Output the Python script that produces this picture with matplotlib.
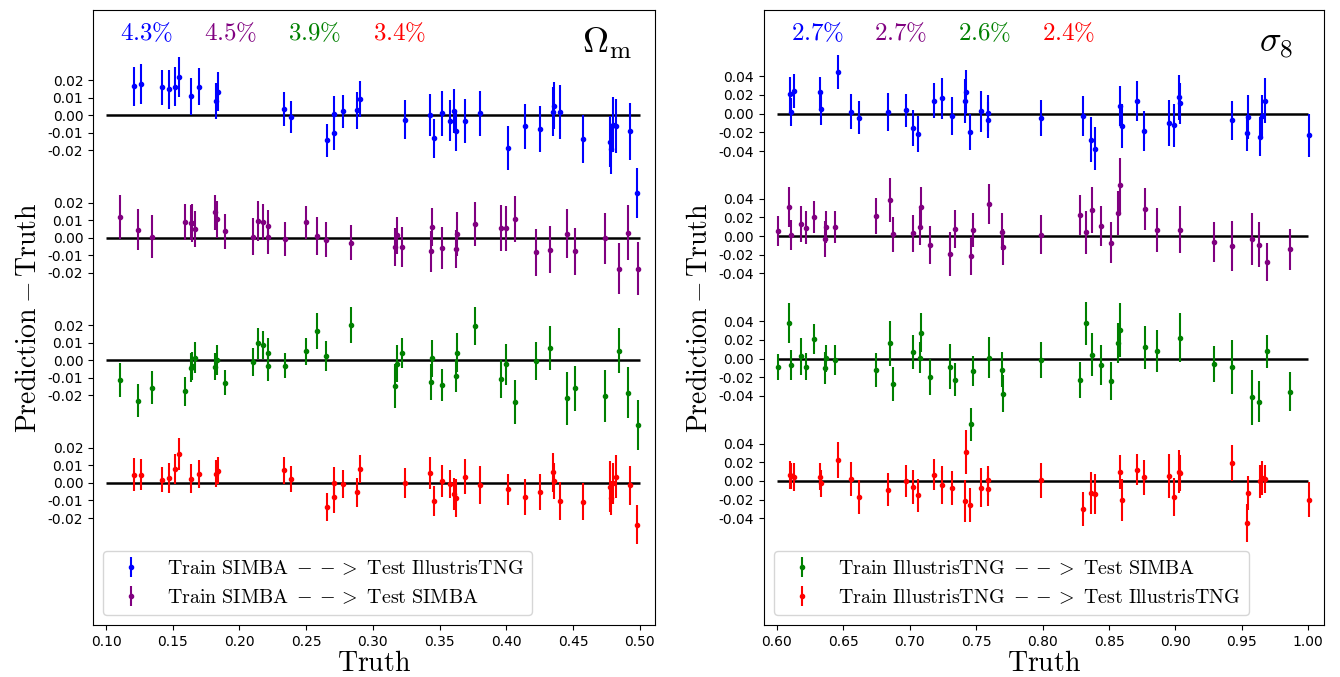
import matplotlib
matplotlib.use("Agg")
import matplotlib.pyplot as plt
import numpy as np

plt.rcParams['mathtext.fontset'] = 'cm'

# ---------------- data: Omega_m panel ----------------
# truth values of the IllustrisTNG test set (blue + red) and SIMBA test set (purple + green)
x_tng_om = [0.1208, 0.1265, 0.1423, 0.1475, 0.1516, 0.1546, 0.1638, 0.1696, 0.1826, 0.1838,
            0.2331, 0.2388, 0.2653, 0.2706, 0.2709, 0.2776, 0.2884, 0.2901, 0.3242, 0.3432,
            0.3456, 0.3519, 0.3576, 0.3612, 0.3627, 0.3687, 0.3804, 0.4012, 0.4144, 0.4255,
            0.4347, 0.4355, 0.4405, 0.4572, 0.4777, 0.4782, 0.4800, 0.4825, 0.4925, 0.4983]
x_simba_om = [0.1107, 0.1240, 0.1343, 0.1588, 0.1633, 0.1643, 0.1666, 0.1818, 0.1835, 0.1893,
              0.2098, 0.2141, 0.2173, 0.2216, 0.2213, 0.2343, 0.2499, 0.2581, 0.2649, 0.2836,
              0.3169, 0.3184, 0.3216, 0.3441, 0.3437, 0.3519, 0.3634, 0.3624, 0.3769, 0.3964,
              0.3997, 0.4069, 0.4220, 0.4330, 0.4457, 0.4517, 0.4743, 0.4845, 0.4912, 0.4985]

# prediction - truth
blue_om = [0.0164, 0.0178, 0.0158, 0.0147, 0.0162, 0.0219, 0.0107, 0.0162, 0.0079, 0.0134,
           0.0033, -0.0010, -0.0144, 0.0005, -0.0101, 0.0022, 0.0027, 0.0090, -0.0026, 0.0001,
           -0.0132, 0.0010, -0.0033, 0.0022, -0.0090, -0.0035, 0.0010, -0.0187, -0.0064, -0.0079,
           0.0020, 0.0054, 0.0018, -0.0136, -0.0151, -0.0193, -0.0054, -0.0062, -0.0092, -0.0446]
blue_om_err = [0.0112, 0.0112, 0.0100, 0.0110, 0.0110, 0.0114, 0.0105, 0.0104, 0.0103, 0.0113,
               0.0097, 0.0093, 0.0095, 0.0102, 0.0098, 0.0094, 0.0107, 0.0102, 0.0111, 0.0120,
               0.0111, 0.0127, 0.0117, 0.0126, 0.0116, 0.0125, 0.0127, 0.0125, 0.0130, 0.0132,
               0.0138, 0.0135, 0.0155, 0.0136, 0.0146, 0.0143, 0.0159, 0.0154, 0.0163, 0.0143]
purple_om = [0.0120, 0.0044, 0.0006, 0.0091, 0.0086, 0.0084, 0.0051, 0.0144, 0.0104, 0.0036,
             0.0006, 0.0095, 0.0091, 0.0067, 0.0002, -0.0006, 0.0087, 0.0011, -0.0011, -0.0029,
             -0.0053, 0.0013, -0.0053, 0.0063, -0.0076, -0.0059, 0.0021, -0.0065, 0.0078, 0.0053,
             0.0053, 0.0107, -0.0084, -0.0068, 0.0023, -0.0078, -0.0004, -0.0178, 0.0029, -0.0177]
purple_om_err = [0.0126, 0.0117, 0.0122, 0.0104, 0.0100, 0.0110, 0.0104, 0.0099, 0.0105, 0.0100,
                 0.0104, 0.0112, 0.0103, 0.0092, 0.0095, 0.0097, 0.0092, 0.0110, 0.0098, 0.0101,
                 0.0106, 0.0108, 0.0114, 0.0109, 0.0117, 0.0120, 0.0125, 0.0108, 0.0124, 0.0131,
                 0.0129, 0.0129, 0.0135, 0.0133, 0.0138, 0.0136, 0.0146, 0.0145, 0.0155, 0.0150]
green_om = [-0.0112, -0.0230, -0.0156, -0.0177, -0.0042, -0.0032, 0.0015, -0.0036, 0.0000, -0.0128,
            -0.0010, 0.0097, 0.0087, 0.0043, -0.0034, -0.0031, 0.0051, 0.0169, 0.0025, 0.0200,
            -0.0145, -0.0019, 0.0042, 0.0011, -0.0125, -0.0141, 0.0043, -0.0090, 0.0196, -0.0105,
            -0.0023, -0.0238, -0.0004, 0.0072, -0.0217, -0.0160, -0.0204, 0.0055, -0.0185, -0.0369]
green_om_err = [0.0095, 0.0095, 0.0096, 0.0083, 0.0083, 0.0080, 0.0090, 0.0078, 0.0086, 0.0071,
                0.0081, 0.0090, 0.0081, 0.0086, 0.0085, 0.0072, 0.0079, 0.0102, 0.0087, 0.0102,
                0.0125, 0.0105, 0.0083, 0.0104, 0.0103, 0.0093, 0.0111, 0.0092, 0.0108, 0.0109,
                0.0118, 0.0128, 0.0106, 0.0125, 0.0150, 0.0127, 0.0148, 0.0128, 0.0147, 0.0142]
red_om = [0.0048, 0.0048, 0.0019, 0.0029, 0.0078, 0.0165, 0.0023, 0.0050, 0.0054, 0.0071,
          0.0072, 0.0023, -0.0137, 0.0000, -0.0082, -0.0006, -0.0053, 0.0080, 0.0000, 0.0057,
          -0.0103, 0.0011, -0.0006, -0.0063, -0.0086, 0.0036, -0.0013, -0.0036, -0.0080, -0.0051,
          0.0061, 0.0011, -0.0103, -0.0108, -0.0021, -0.0086, -0.0002, 0.0036, -0.0013, -0.0239]
red_om_err = [0.0092, 0.0089, 0.0071, 0.0085, 0.0086, 0.0091, 0.0083, 0.0080, 0.0075, 0.0079,
              0.0079, 0.0075, 0.0081, 0.0089, 0.0092, 0.0079, 0.0082, 0.0082, 0.0084, 0.0092,
              0.0087, 0.0090, 0.0078, 0.0092, 0.0110, 0.0099, 0.0107, 0.0090, 0.0101, 0.0104,
              0.0111, 0.0104, 0.0111, 0.0106, 0.0146, 0.0095, 0.0116, 0.0122, 0.0111, 0.0111]
pct_om = ["4.3", "4.5", "3.9", "3.4"]

# ---------------- data: sigma_8 panel ----------------
x_tng_s8 = [0.6099, 0.6107, 0.6125, 0.6326, 0.6334, 0.6456, 0.6557, 0.6617, 0.6837, 0.6972,
            0.7025, 0.7060, 0.7180, 0.7245, 0.7316, 0.7415, 0.7423, 0.7451, 0.7533, 0.7588,
            0.7591, 0.7986, 0.8307, 0.8362, 0.8397, 0.8580, 0.8597, 0.8713, 0.8760, 0.8948,
            0.8993, 0.9029, 0.9038, 0.9429, 0.9536, 0.9544, 0.9637, 0.9654, 0.9677, 1.0002]
x_simba_s8 = [0.6008, 0.6093, 0.6103, 0.6181, 0.6219, 0.6281, 0.6364, 0.6369, 0.6434, 0.6742,
              0.6850, 0.6877, 0.7025, 0.7075, 0.7085, 0.7155, 0.7305, 0.7343, 0.7458, 0.7476,
              0.7596, 0.7696, 0.7701, 0.7986, 0.8285, 0.8330, 0.8372, 0.8440, 0.8515, 0.8565,
              0.8582, 0.8770, 0.8863, 0.9033, 0.9294, 0.9424, 0.9574, 0.9632, 0.9687, 0.9860]

blue_s8 = [0.0214, 0.0018, 0.0242, 0.0228, 0.0049, 0.0445, 0.0021, -0.0042, 0.0021, 0.0035,
           -0.0155, -0.0218, 0.0137, 0.0165, -0.0028, 0.0140, 0.0232, -0.0197, 0.0024, 0.0007,
           -0.0070, -0.0049, -0.0024, -0.0277, -0.0375, 0.0084, -0.0133, 0.0133, -0.0190, -0.0102,
           -0.0126, 0.0175, 0.0109, -0.0070, -0.0207, -0.0035, -0.0246, -0.0028, 0.0140, -0.0232]
blue_s8_err = [0.0180, 0.0154, 0.0179, 0.0168, 0.0168, 0.0184, 0.0189, 0.0180, 0.0203, 0.0180,
               0.0195, 0.0190, 0.0186, 0.0220, 0.0203, 0.0236, 0.0236, 0.0193, 0.0223, 0.0188,
               0.0190, 0.0193, 0.0212, 0.0237, 0.0232, 0.0216, 0.0232, 0.0216, 0.0214, 0.0249,
               0.0228, 0.0242, 0.0216, 0.0210, 0.0193, 0.0233, 0.0207, 0.0228, 0.0242, 0.0228]
purple_s8 = [0.0053, 0.0309, 0.0015, 0.0131, 0.0092, 0.0204, -0.0032, 0.0095, 0.0099, 0.0211,
             0.0389, 0.0018, 0.0028, 0.0102, 0.0316, -0.0098, -0.0189, 0.0074, -0.0211, 0.0063,
             0.0341, 0.0049, -0.0119, 0.0015, 0.0225, 0.0039, 0.0281, 0.0105, -0.0070, 0.0249,
             0.0544, 0.0288, 0.0067, 0.0067, -0.0066, -0.0101, -0.0032, -0.0091, -0.0274, -0.0143]
purple_s8_err = [0.0163, 0.0214, 0.0161, 0.0195, 0.0174, 0.0168, 0.0190, 0.0170, 0.0175, 0.0193,
                 0.0235, 0.0190, 0.0200, 0.0193, 0.0214, 0.0202, 0.0237, 0.0204, 0.0202, 0.0184,
                 0.0216, 0.0202, 0.0193, 0.0209, 0.0212, 0.0233, 0.0247, 0.0216, 0.0219, 0.0237,
                 0.0293, 0.0225, 0.0237, 0.0251, 0.0216, 0.0268, 0.0275, 0.0237, 0.0202, 0.0216]
green_s8 = [-0.0088, 0.0382, -0.0067, 0.0025, -0.0088, 0.0207, -0.0098, 0.0004, -0.0018, -0.0123,
            0.0161, -0.0270, 0.0070, 0.0011, 0.0277, -0.0197, -0.0088, -0.0225, -0.0702, -0.0137,
            0.0011, -0.0119, -0.0375, -0.0014, -0.0232, 0.0375, 0.0042, -0.0070, -0.0239, 0.0161,
            0.0309, 0.0123, 0.0077, 0.0225, -0.0056, -0.0091, -0.0414, -0.0460, 0.0077, -0.0354]
green_s8_err = [0.0140, 0.0214, 0.0158, 0.0200, 0.0147, 0.0160, 0.0172, 0.0146, 0.0163, 0.0184,
                0.0240, 0.0184, 0.0180, 0.0161, 0.0207, 0.0188, 0.0242, 0.0179, 0.0177, 0.0161,
                0.0223, 0.0186, 0.0198, 0.0196, 0.0191, 0.0233, 0.0230, 0.0218, 0.0202, 0.0214,
                0.0288, 0.0230, 0.0226, 0.0260, 0.0193, 0.0290, 0.0296, 0.0221, 0.0177, 0.0205]
red_s8 = [0.0063, 0.0053, 0.0042, 0.0045, -0.0025, 0.0224, 0.0021, -0.0176, -0.0092, -0.0004,
          -0.0063, -0.0155, 0.0069, -0.0042, -0.0074, -0.0215, 0.0312, -0.0253, -0.0074, 0.0007,
          -0.0084, 0.0007, -0.0302, -0.0130, -0.0141, 0.0095, -0.0204, 0.0122, 0.0038, 0.0056,
          -0.0172, 0.0098, 0.0087, 0.0193, -0.0449, -0.0126, -0.0004, 0.0032, 0.0021, -0.0200]
red_s8_err = [0.0154, 0.0140, 0.0154, 0.0147, 0.0144, 0.0188, 0.0184, 0.0181, 0.0172, 0.0170,
              0.0184, 0.0172, 0.0170, 0.0205, 0.0180, 0.0228, 0.0235, 0.0182, 0.0209, 0.0156,
              0.0184, 0.0186, 0.0184, 0.0225, 0.0214, 0.0180, 0.0223, 0.0170, 0.0190, 0.0235,
              0.0207, 0.0232, 0.0190, 0.0193, 0.0205, 0.0184, 0.0179, 0.0184, 0.0151, 0.0184]
pct_s8 = ["2.7", "2.7", "2.6", "2.4"]

labels = [r"$\mathrm{Train\ SIMBA}\ --> \ \mathrm{Test\ IllustrisTNG}$",
          r"$\mathrm{Train\ SIMBA}\ --> \ \mathrm{Test\ SIMBA}$",
          r"$\mathrm{Train\ IllustrisTNG}\ --> \ \mathrm{Test\ SIMBA}$",
          r"$\mathrm{Train\ IllustrisTNG}\ --> \ \mathrm{Test\ IllustrisTNG}$"]
colors = ["blue", "purple", "green", "red"]


def draw_panel(ax, x_tng, x_simba, series, pct, step, tick_vals, xr, xticks, ylim, name, legend_ids):
    # series order top to bottom: blue, purple, green, red
    xs = [x_tng, x_simba, x_simba, x_tng]
    offsets = [3 * step, 2 * step, step, 0.0]
    ax.hlines(offsets, xr[0], xr[1], color="black", lw=1.8, zorder=1)
    for i, (vals, errs) in enumerate(series):
        lab = labels[i] if i in legend_ids else "_nolegend_"
        ax.errorbar(xs[i], np.array(vals) + offsets[i], yerr=errs, fmt="o", color=colors[i],
                    markersize=3, elinewidth=1.5, capsize=0, label=lab, zorder=2)

    yt, yl = [], []
    for off in offsets:
        for v in tick_vals[::-1]:
            yt.append(off + v)
            yl.append("%.2f" % v)
    ax.set_yticks(yt)
    ax.set_yticklabels(yl)
    ax.set_xticks(xticks)
    ax.set_xticklabels(["%.2f" % t for t in xticks])
    ax.set_xlim(xticks[0] - 0.0098, xticks[-1] + 0.0115)
    ax.set_ylim(ylim)

    for k, p in enumerate(pct):
        ax.text([0.096, 0.245, 0.394, 0.545][k], 0.963, r"$%s\%%$" % p, color=colors[k],
                fontsize=18, ha="center", va="center", transform=ax.transAxes)
    ax.text(0.915, 0.945, name, fontsize=26, ha="center", va="center", transform=ax.transAxes)

    ax.set_xlabel(r"$\mathrm{Truth}$", fontsize=20, labelpad=0)
    ax.set_ylabel(r"$\mathrm{Prediction} - \mathrm{Truth}$", fontsize=20)
    ax.legend(loc="lower left", fontsize=14.4)


fig = plt.figure(figsize=(13.4, 6.77), dpi=100)
ax1 = fig.add_axes([0.0694, 0.0770, 0.4194, 0.9083])
ax2 = fig.add_axes([0.5701, 0.0770, 0.4176, 0.9083])

draw_panel(ax1, x_tng_om, x_simba_om,
           [(blue_om, blue_om_err), (purple_om, purple_om_err),
            (green_om, green_om_err), (red_om, red_om_err)],
           pct_om, 0.07, [-0.02, -0.01, 0.0, 0.01, 0.02], (0.1, 0.5),
           np.arange(0.10, 0.501, 0.05), (-0.081, 0.270), r"$\Omega_{\rm m}$", [0, 1])

draw_panel(ax2, x_tng_s8, x_simba_s8,
           [(blue_s8, blue_s8_err), (purple_s8, purple_s8_err),
            (green_s8, green_s8_err), (red_s8, red_s8_err)],
           pct_s8, 0.131, [-0.04, -0.02, 0.0, 0.02, 0.04], (0.6, 1.0),
           np.arange(0.60, 1.001, 0.05), (-0.154, 0.504), r"$\sigma_8$", [2, 3])

fig.savefig("out.png", dpi=100)
